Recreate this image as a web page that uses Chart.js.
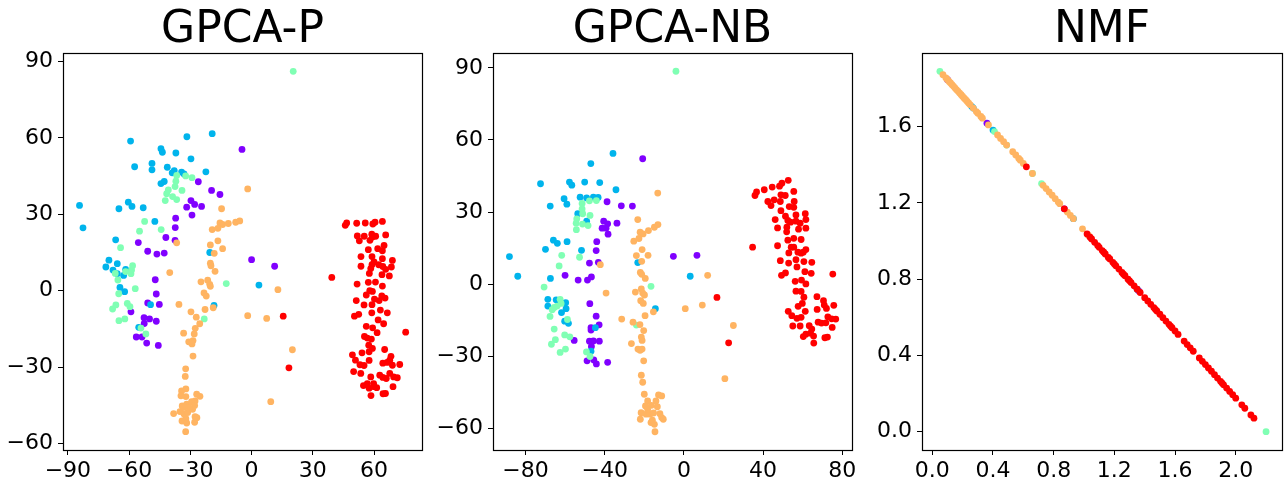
<!DOCTYPE html>
<html>
<head>
<meta charset="utf-8">
<script src="https://cdn.jsdelivr.net/npm/chart.js@4.4.0/dist/chart.umd.min.js"></script>
<style>
  html, body { margin: 0; padding: 0; background: #fff; }
  #wrap { position: relative; width: 1286px; height: 482px; overflow: hidden; }
  canvas { position: absolute; top: 0; }
</style>
</head>
<body>
<div id="wrap">
  <canvas id="c1" width="430" height="482" style="left:0px"></canvas>
  <canvas id="c2" width="430" height="482" style="left:430px"></canvas>
  <canvas id="c3" width="426" height="482" style="left:860px"></canvas>
</div>
<script>
// rainbow colormap, 5 classes
var classColors = ['#8000ff', '#00b4ec', '#80ffb4', '#ffb462', '#ff0000'];
var titles = ['GPCA-P', 'GPCA-NB', 'NMF'];

// ---- GPCA-P ----
var p1Purple = [[-4.7,55.5],[-26.1,42.8],[-19.6,39.4],[-15.5,37.8],[-29.7,35.4],[-31.8,32.8],[-27.9,33.9],[-24.5,33.1],[-29.2,29.7],[-37.2,28.5],[-37.4,24.8],[-42.0,20.9],[-37.5,19.8],[-55.5,18.9],[-50.9,15.5],[-46.4,14.4],[-42.8,14.8],[0.0,12.2],[-47.2,4.3],[-46.7,-1.3],[-50.9,-4.8],[-45.2,-5.4],[-59.1,-8.3],[-52.7,-10.6],[-50.0,-11.1],[-52.6,-12.9],[-46.7,-12.0],[-56.5,-18.2],[-53.7,-18.2],[-51.4,-20.6],[-45.7,-21.5],[11.3,9.6]];
var p1Blue = [[-59.3,58.8],[-19.3,61.7],[-31.7,60.5],[-44.4,55.8],[-43.7,54.4],[-37.1,54.1],[-29.7,51.8],[-48.8,50.0],[-48.8,47.5],[-57.3,48.7],[-41.3,48.5],[-37.9,47.2],[-38.9,46.3],[-34.3,46.6],[-33.1,45.9],[-22.4,46.7],[-44.4,42.1],[-42.8,42.9],[-84.3,33.5],[-82.6,24.7],[-60.4,34.8],[-58.6,33.1],[-65.0,32.2],[-53.1,32.6],[-47.4,27.2],[-66.6,20.0],[-69.9,12.0],[-20.5,15.0],[-65.8,10.6],[-71.4,9.3],[-67.9,8.1],[-65.8,6.7],[-62.7,6.0],[-61.7,8.4],[-64.5,1.3],[-62.2,-0.4],[3.6,2.2],[-49.5,-5.5],[-18.4,-5.8],[-55.3,-14.4]];
var p1Green = [[20.4,86.2],[-36.7,45.3],[-32.3,45.1],[-29.2,44.4],[-37.1,43.0],[-37.5,40.9],[-40.8,39.6],[-41.6,38.1],[-38.7,37.0],[-36.7,35.8],[-42.3,35.4],[-34.1,39.4],[-52.4,27.2],[-54.9,23.4],[-44.3,24.0],[-64.2,16.9],[-66.8,6.8],[-65.5,4.2],[-61.7,7.5],[-59.1,6.7],[-58.3,9.8],[-58.8,8.1],[-57.0,0.8],[-65.1,-1.2],[-66.5,-5.6],[-68.1,-7.2],[-60.9,-5.0],[-59.6,-6.3],[-65.0,-11.8],[-62.1,-11.1],[-54.2,-14.7],[-51.8,-17.0],[-12.4,2.8],[-23.2,-11.1]];
var p1Orange = [[-1.9,40.0],[-14.7,32.2],[-15.5,26.6],[-14.2,26.0],[-11.4,26.4],[-7.8,26.9],[-5.8,27.4],[-19.3,24.0],[-16.5,24.5],[-36.7,18.8],[-20.2,18.0],[-16.5,19.6],[-14.2,16.5],[-18.3,14.7],[-20.2,10.8],[-19.9,9.8],[-17.9,7.6],[-40.1,7.1],[-24.8,3.5],[-21.5,4.1],[-20.5,2.5],[-20.2,1.7],[-23.3,-0.9],[-22.2,-2.1],[-35.6,-5.4],[-29.7,-8.3],[-22.8,-7.4],[-18.8,-6.7],[-27.1,-10.4],[-25.4,-13.0],[-1.9,-9.8],[-27.6,-14.8],[-28.1,-17.0],[-33.3,-16.7],[-30.8,-20.1],[-28.7,-19.6],[-29.2,-20.9],[-28.7,-25.7],[-32.3,-30.7],[-32.5,-33.7],[-32.2,-38.6],[-34.3,-39.4],[-32.2,-41.6],[-34.6,-41.3],[-26.9,-40.7],[-25.3,-41.5],[-34.0,-45.3],[-31.8,-44.6],[-29.4,-43.6],[-27.7,-43.3],[-27.9,-45.1],[-38.2,-48.3],[-35.1,-47.5],[-33.1,-48.5],[-31.3,-47.9],[-28.9,-46.6],[-32.2,-50.3],[-34.1,-51.2],[-31.8,-52.0],[-27.7,-49.5],[-26.8,-49.9],[-27.9,-51.7],[-32.3,-55.4],[-33.3,-45.9],[-30.7,-45.9],[12.9,0.4],[7.4,-10.9],[20.0,-23.2],[9.4,-43.6]];
var p1Red = [[46.6,26.6],[45.9,25.7],[51.5,26.5],[55.7,26.6],[59.4,26.2],[60.5,26.9],[64.1,27.2],[51.8,21.5],[55.2,21.4],[52.8,19.6],[58.9,22.2],[58.0,19.8],[60.8,21.4],[59.2,21.1],[65.7,21.9],[57.2,16.1],[61.8,16.5],[64.1,15.7],[64.9,17.8],[53.6,13.4],[59.0,13.4],[64.1,12.6],[69.0,11.9],
  [53.6,9.6],[60.0,11.3],[59.0,10.2],[62.3,10.2],[64.3,9.5],[65.7,8.4],[68.5,9.3],[58.4,8.7],[57.7,6.8],[63.9,6.3],[67.5,5.8],[51.7,2.6],[57.2,3.3],[60.7,3.4],[64.1,1.8],[57.9,0.0],[59.2,-0.3],[56.2,-1.7],[60.2,-3.3],[63.8,-2.0],[65.4,-2.9],[51.3,-3.9],[55.1,-5.6],[59.0,-5.5],[62.5,-3.9],[63.1,-7.6],[66.5,-8.7],[58.9,-8.7],[52.5,-9.3],[50.4,-10.0],[62.0,-11.5],[64.7,-13.0],[56.2,-14.0],[59.3,-14.6],[61.5,-16.5],[55.3,-18.0],[56.7,-18.6],[58.7,-19.0],[57.4,-21.4],[59.2,-22.7],[54.1,-24.4],[57.6,-24.0],[65.2,-23.1],[49.4,-25.2],[50.9,-27.3],[57.6,-27.4],[53.1,-29.1],[55.1,-29.4],[64.3,-28.5],[68.3,-25.8],[67.7,-27.3],[66.4,-28.2],[69.0,-29.3],[72.6,-29.0],[50.0,-31.8],[53.5,-32.5],[58.4,-33.9],[62.8,-33.2],[64.3,-34.1],[66.0,-34.5],[67.7,-32.5],[69.6,-33.9],[71.4,-34.2],[54.8,-37.3],[56.7,-36.5],[59.8,-36.5],[57.6,-38.3],[60.0,-37.7],[61.3,-38.1],[69.3,-37.7],[58.5,-41.2],[64.4,-40.5],[65.6,-40.4],
  [15.5,-10.0],[18.3,-30.3],[39.3,5.2],[75.5,-16.3]];

// ---- GPCA-NB ----
var p2Purple = [[-20.8,52.2],[-38.8,34.3],[-31.6,32.6],[-26.0,32.5],[-40.5,26.2],[-38.5,25.1],[-33.8,25.4],[-41.3,23.3],[-39.3,23.3],[-38.3,20.8],[-44.0,17.7],[-44.3,14.0],[-5.3,11.6],[-47.7,8.8],[-43.2,9.1],[-60.0,3.7],[-53.4,1.7],[-48.7,1.7],[-46.7,3.0],[-47.5,-8.1],[-44.3,-13.3],[-46.9,-18.1],[-46.9,-19.1],[-42.8,-16.9],[-55.4,-23.4],[-47.7,-23.7],[-45.7,-23.6],[-42.7,-23.7],[-46.7,-25.9],[-48.9,-31.9],[-45.5,-31.5],[-44.2,-33.2],[-38.5,-32.5],[6.6,12.0]];
var p2Blue = [[-35.8,54.4],[-47.0,50.2],[-72.4,41.8],[-57.8,42.5],[-56.6,41.2],[-50.1,42.5],[-42.5,42.3],[-34.3,39.3],[-60.5,35.6],[-59.1,33.3],[-67.5,32.5],[-52.4,36.2],[-49.1,35.9],[-45.7,36.2],[-43.3,36.1],[-53.6,29.3],[-49.1,26.2],[-65.9,18.3],[-63.9,17.0],[-59.0,17.7],[-69.9,14.5],[-51.7,14.1],[-88.1,11.5],[-83.9,3.3],[-67.4,2.4],[-68.7,-6.3],[-64.5,-6.5],[-68.7,-9.1],[-59.7,-7.7],[-59.5,-10.2],[-61.8,-11.8],[-60.2,-15.4],[-58.3,-16.3],[-23.3,9.0],[-14.4,-10.2],[-44.7,-18.1],[-46.9,-27.9],[3.2,3.3]];
var p2Green = [[-4.0,88.6],[-47.7,34.7],[-44.2,34.8],[-51.4,33.6],[-51.4,31.3],[-51.1,29.3],[-47.4,28.6],[-54.1,27.2],[-54.4,25.4],[-51.2,25.0],[-48.4,24.4],[-54.3,22.7],[-61.7,12.0],[-52.7,11.2],[-63.0,7.6],[-70.6,-1.2],[-62.5,-6.3],[-62.0,-8.0],[-64.0,-9.1],[-66.5,-10.6],[-65.5,-9.7],[-67.6,-13.4],[-58.8,-14.7],[-65.5,-18.7],[-60.2,-21.1],[-57.6,-21.9],[-64.9,-23.1],[-66.9,-25.0],[-59.8,-27.0],[-62.5,-28.4],[-49.2,-28.2],[-47.4,-30.1],[-16.6,-0.9],[-24.0,-17.0]];
var p2Orange = [[-13.2,37.9],[-23.3,26.9],[-14.9,23.7],[-13.1,24.8],[-17.9,22.3],[-22.1,21.6],[-20.6,20.9],[-25.3,17.9],[-22.7,19.0],[-21.1,14.4],[-24.0,11.9],[-18.1,12.0],[-21.3,9.5],[-42.2,8.1],[-22.0,4.9],[-21.3,4.1],[-19.5,2.4],[-39.3,-3.7],[-24.5,-3.3],[-21.5,-2.0],[-20.8,-3.7],[-19.9,-4.5],[-21.8,-6.9],[-20.5,-8.0],[-15.4,-11.5],[-19.6,-13.1],[-22.2,-16.8],[-31.4,-14.5],[-25.7,-15.8],[-20.3,-19.3],[-21.5,-22.0],[-21.1,-23.4],[-26.5,-24.7],[-23.2,-27.0],[-21.1,-27.0],[-22.1,-27.5],[-20.3,-31.9],[-21.5,-37.9],[-20.8,-40.8],[-20.0,-45.8],[-12.8,-46.1],[-11.2,-46.5],[-18.3,-48.6],[-14.1,-48.6],[-19.4,-50.7],[-16.4,-50.4],[-13.4,-51.0],[-21.6,-53.5],[-19.1,-54.1],[-17.1,-54.1],[-15.3,-53.6],[-12.1,-53.9],[-11.2,-55.5],[-10.4,-56.2],[-22.0,-56.2],[-16.6,-57.6],[-14.9,-58.3],[-15.9,-56.6],[-14.6,-61.4],[-18.3,-52.1],[12.0,3.7],[0.7,-10.2],[9.3,-8.7],[25.0,-17.2],[20.7,-39.3]];
var p2Red = [[52.7,43.2],[49.5,42.0],[48.3,40.8],[44.6,40.4],[40.6,39.3],[36.7,38.4],[35.9,36.9],[55.5,38.6],[49.0,37.2],[51.2,36.9],[48.7,34.4],[42.4,34.4],[44.0,32.7],[45.6,35.1],[55.7,34.4],[53.2,32.3],[55.5,32.0],[49.0,30.6],[51.3,28.3],[56.6,28.8],[61.3,29.3],[46.1,26.9],[52.5,26.5],[53.9,25.8],[56.6,26.2],[58.7,25.4],[61.6,26.9],[47.3,23.4],[52.0,23.7],[51.9,21.8],[57.9,22.9],[61.6,23.3],[55.5,19.1],[52.5,18.3],[59.2,18.6],[47.3,16.0],[54.2,15.4],[55.5,15.4],[61.6,14.4],[60.3,13.3],[53.0,13.0],[57.6,13.3],[59.2,12.9],[34.7,15.4],
  [48.7,9.8],[52.9,8.8],[56.6,10.2],[60.6,9.4],[64.6,9.1],[57.1,7.2],[61.1,5.2],[51.3,4.7],[49.3,3.7],[59.4,1.7],[64.3,4.5],[56.2,1.2],[61.6,0.1],[56.6,-2.9],[59.2,-3.0],[60.6,-5.4],[59.8,-8.0],[57.7,-9.2],[67.2,-5.2],[70.5,-6.9],[70.9,-8.7],[72.0,-10.1],[67.3,-10.5],[61.3,-11.3],[52.7,-11.3],[54.5,-13.1],[57.1,-14.2],[59.2,-13.8],[75.7,-8.8],[72.7,-13.6],[74.6,-14.4],[76.7,-14.5],[67.8,-15.8],[69.5,-16.2],[71.7,-16.1],[74.9,-18.0],[55.0,-17.4],[58.7,-17.4],[63.3,-17.3],[64.6,-18.7],[64.0,-20.4],[61.6,-20.8],[60.3,-21.8],[65.5,-21.6],[71.2,-22.3],[72.5,-22.0],[65.6,-24.5],
  [16.7,-5.5],[22.6,-24.4],[75.2,4.2]];

// ---- NMF ----
var p3Purple = [[0.10,1.846],[0.36,1.618],[0.87,1.169],[1.36,0.739]];
var p3Blue = [[0.26,1.705],[0.40,1.582],[0.27,1.697],[0.93,1.117],[1.35,0.747]];
var p3Green = [[0.05,1.890],[0.41,1.574],[0.49,1.503],[0.66,1.354],[0.72,1.301],[2.20,0.000]];
var p3Orange = [[0.07,1.872],[0.09,1.855],[0.10,1.846],[0.11,1.837],[0.12,1.829],[0.13,1.820],[0.14,1.811],[0.15,1.802],[0.16,1.793],[0.17,1.785],[0.18,1.776],[0.19,1.767],[0.20,1.758],[0.21,1.749],[0.22,1.741],[0.23,1.732],[0.24,1.723],[0.25,1.714],[0.27,1.697],[0.29,1.679],[0.30,1.670],[0.32,1.653],[0.33,1.644],[0.37,1.609],[0.43,1.556],[0.45,1.538],[0.47,1.521],[0.49,1.503],[0.53,1.468],[0.55,1.451],[0.57,1.433],[0.58,1.424],[0.60,1.407],[0.66,1.354],[0.73,1.292],[0.75,1.275],[0.77,1.257],[0.79,1.240],[0.81,1.222],[0.83,1.204],[0.84,1.196],[0.89,1.152],[0.91,1.134],[0.93,1.117],[0.99,1.064],[1.03,1.029]];
var p3Red = [[0.62,1.389],[0.87,1.169],[1.02,1.037],[1.04,1.020],[1.05,1.011],[1.07,0.993],[1.09,0.976],[1.10,0.967],[1.12,0.950],[1.13,0.941],[1.14,0.932],[1.16,0.914],[1.17,0.906],[1.19,0.888],[1.20,0.879],[1.21,0.870],[1.23,0.853],[1.25,0.835],[1.26,0.826],[1.27,0.818],[1.29,0.800],[1.30,0.791],[1.31,0.782],[1.33,0.765],[1.35,0.747],[1.37,0.730],[1.40,0.703],[1.42,0.686],[1.44,0.668],[1.46,0.651],[1.47,0.642],[1.48,0.633],[1.50,0.616],[1.52,0.598],[1.54,0.580],[1.56,0.563],[1.57,0.554],[1.58,0.545],[1.60,0.528],[1.62,0.510],[1.66,0.475],[1.68,0.457],[1.70,0.440],[1.72,0.422],[1.76,0.387],[1.78,0.369],[1.80,0.352],[1.82,0.334],[1.84,0.317],[1.86,0.299],[1.88,0.281],[1.90,0.264],[1.91,0.255],[1.92,0.246],[1.94,0.229],[1.96,0.211],[1.98,0.194],[2.00,0.176],[2.04,0.141],[2.06,0.123],[2.10,0.088],[2.12,0.071]];

// tick values
var p1XTicks = [-90, -60, -30, 0, 30, 60];
var p1YTicks = [-60, -30, 0, 30, 60, 90];
var p2XTicks = [-80, -40, 0, 40, 80];
var p2YTicks = [-60, -30, 0, 30, 60, 90];
var p3XTicks = [0.0, 0.4, 0.8, 1.2, 1.6, 2.0];
var p3YTicks = [0.0, 0.4, 0.8, 1.2, 1.6];

function intLabel(v) { return v < 0 ? '\u2212' + Math.abs(v) : String(v); }
function decLabel(v) { return v.toFixed(1); }

var framePlugin = {
  id: 'frame',
  afterDatasetsDraw: function (chart) {
    var a = chart.chartArea, ctx = chart.ctx;
    ctx.save();
    ctx.strokeStyle = '#000';
    ctx.lineWidth = 1.2;
    ctx.strokeRect(Math.round(a.left) + 0.5, Math.round(a.top) + 0.5, Math.round(a.right - a.left), Math.round(a.bottom - a.top));
    ctx.restore();
  }
};

function toPts(arr) { return arr.map(function (p) { return { x: p[0], y: p[1] }; }); }

function makePanel(id, title, groups, xr, yr, xTicks, yTicks, fmt, yWidth, padRight) {
  var datasets = [];
  // drawing order: red on top, then orange, green, blue, purple
  var order = [4, 3, 2, 1, 0];
  for (var i = 0; i < groups.length; i++) {
    datasets.push({
      data: toPts(groups[i]),
      backgroundColor: classColors[i],
      borderWidth: 0,
      pointRadius: 3.4,
      pointHoverRadius: 3.4,
      order: order[i]
    });
  }
  var tickFont = { family: 'DejaVu Sans', size: 22 };
  var grid = { display: true, drawOnChartArea: false, drawTicks: true, tickLength: 5, color: '#000', lineWidth: 1 };
  new Chart(document.getElementById(id), {
    type: 'scatter',
    data: { datasets: datasets },
    plugins: [framePlugin],
    options: {
      responsive: false,
      animation: false,
      events: [],
      layout: { padding: { left: 0, right: padRight, top: 0, bottom: 0 } },
      plugins: {
        legend: { display: false },
        tooltip: { enabled: false },
        title: {
          display: true, text: title, color: '#000', fullSize: false,
          font: { family: 'DejaVu Sans', size: 44, weight: 'normal', lineHeight: 1 },
          padding: { top: 9, bottom: 0 }
        }
      },
      scales: {
        x: {
          type: 'linear', min: xr[0], max: xr[1],
          afterBuildTicks: function (s) { s.ticks = xTicks.map(function (v) { return { value: v }; }); },
          afterFit: function (s) { s.height = 32; },
          ticks: { color: '#000', font: tickFont, padding: 3, maxRotation: 0, autoSkip: false, callback: function (v) { return fmt(v); } },
          grid: grid,
          border: { display: false }
        },
        y: {
          type: 'linear', min: yr[0], max: yr[1],
          afterBuildTicks: function (s) { s.ticks = yTicks.map(function (v) { return { value: v }; }); },
          afterFit: function (s) { s.width = yWidth; },
          ticks: { color: '#000', font: tickFont, padding: 5, autoSkip: false, callback: function (v) { return fmt(v); } },
          grid: grid,
          border: { display: false }
        }
      }
    }
  });
}

makePanel('c1', titles[0], [p1Purple, p1Blue, p1Green, p1Orange, p1Red], [-92.4, 83.5], [-62.6, 93.4], p1XTicks, p1YTicks, intLabel, 63, 8);
makePanel('c2', titles[1], [p2Purple, p2Blue, p2Green, p2Orange, p2Red], [-96.4, 84.9], [-69.0, 96.2], p2XTicks, p2YTicks, intLabel, 63, 8);
makePanel('c3', titles[2], [p3Purple, p3Blue, p3Green, p3Orange, p3Red], [-0.068, 2.305], [-0.096, 1.986], p3XTicks, p3YTicks, decLabel, 62, 4);
</script>
</body>
</html>
